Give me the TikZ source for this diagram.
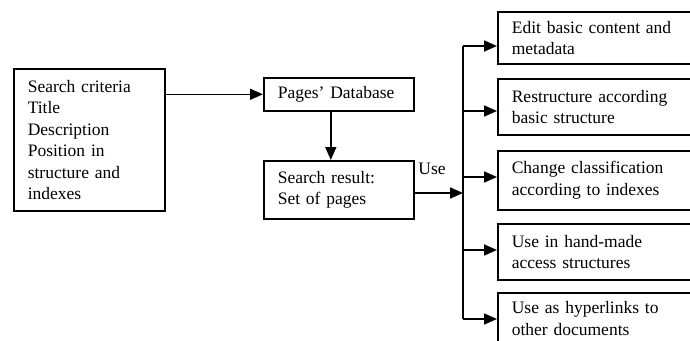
\documentclass[tikz,border=0pt]{standalone}
\usepackage{fontspec}
\setmainfont{Liberation Serif}
\usetikzlibrary{arrows.meta, positioning}

\begin{document}
\begin{tikzpicture}[x=1pt, y=-1pt]
    \tikzstyle{box}=[draw, line width=1.6pt, rectangle, align=left, anchor=north west, inner xsep=14pt, inner ysep=2pt, font=\fontsize{17.5}{21.5}\selectfont]
    \tikzstyle{flow}=[line width=1.6pt, -{Triangle[length=13pt, width=11pt]}]
    \clip (0,0) rectangle (690,340);
    % query side
    \node[box, text width=123pt, minimum height=142pt] (crit) at (13,68) {Search criteria\\Title\\Description\\Position in\\structure and\\indexes};
    \node[box, text width=122pt, minimum height=33pt] (db) at (263,77) {Pages' Database};
    \node[box, text width=122pt, minimum height=58pt] (res) at (263,160) {Search result:\\Set of pages};
    \node[font=\fontsize{17.5}{21.5}\selectfont, inner sep=0pt] (use) at (432,169) {Use};
    % uses of the result
    \node[box, text width=175pt, minimum height=52pt] (edit) at (497,11) {Edit basic content and\\metadata};
    \node[box, text width=175pt, minimum height=56pt] (restr) at (497,78) {Restructure according\\basic structure};
    \node[box, text width=175pt, minimum height=59pt] (class) at (497,150) {Change classification\\according to indexes};
    \node[box, text width=175pt, minimum height=56pt] (hand) at (497,223) {Use in hand-made\\access structures};
    \node[box, text width=175pt, minimum height=51pt] (link) at (497,292) {Use as hyperlinks to\\other documents};
    \coordinate (b1) at (463,46);
    \coordinate (b2) at (463,111);
    \coordinate (b3) at (463,177);
    \coordinate (b4) at (463,250);
    \coordinate (b5) at (463,319);
    \coordinate (bin) at (463,193);
    % connectors
    \draw[flow] (db.west -| crit.east) -- (db.west);
    \draw[flow] ([xshift=-8pt]db.south) -- ([xshift=-8pt]res.north);
    \draw[flow] (bin -| res.east) -- (bin);
    \draw[line width=1.6pt] (b1) -- (b5);
    \draw[flow] (b1) -- (b1 -| edit.west);
    \draw[flow] (b2) -- (b2 -| restr.west);
    \draw[flow] (b3) -- (b3 -| class.west);
    \draw[flow] (b4) -- (b4 -| hand.west);
    \draw[flow] (b5) -- (b5 -| link.west);
\end{tikzpicture}
\end{document}
